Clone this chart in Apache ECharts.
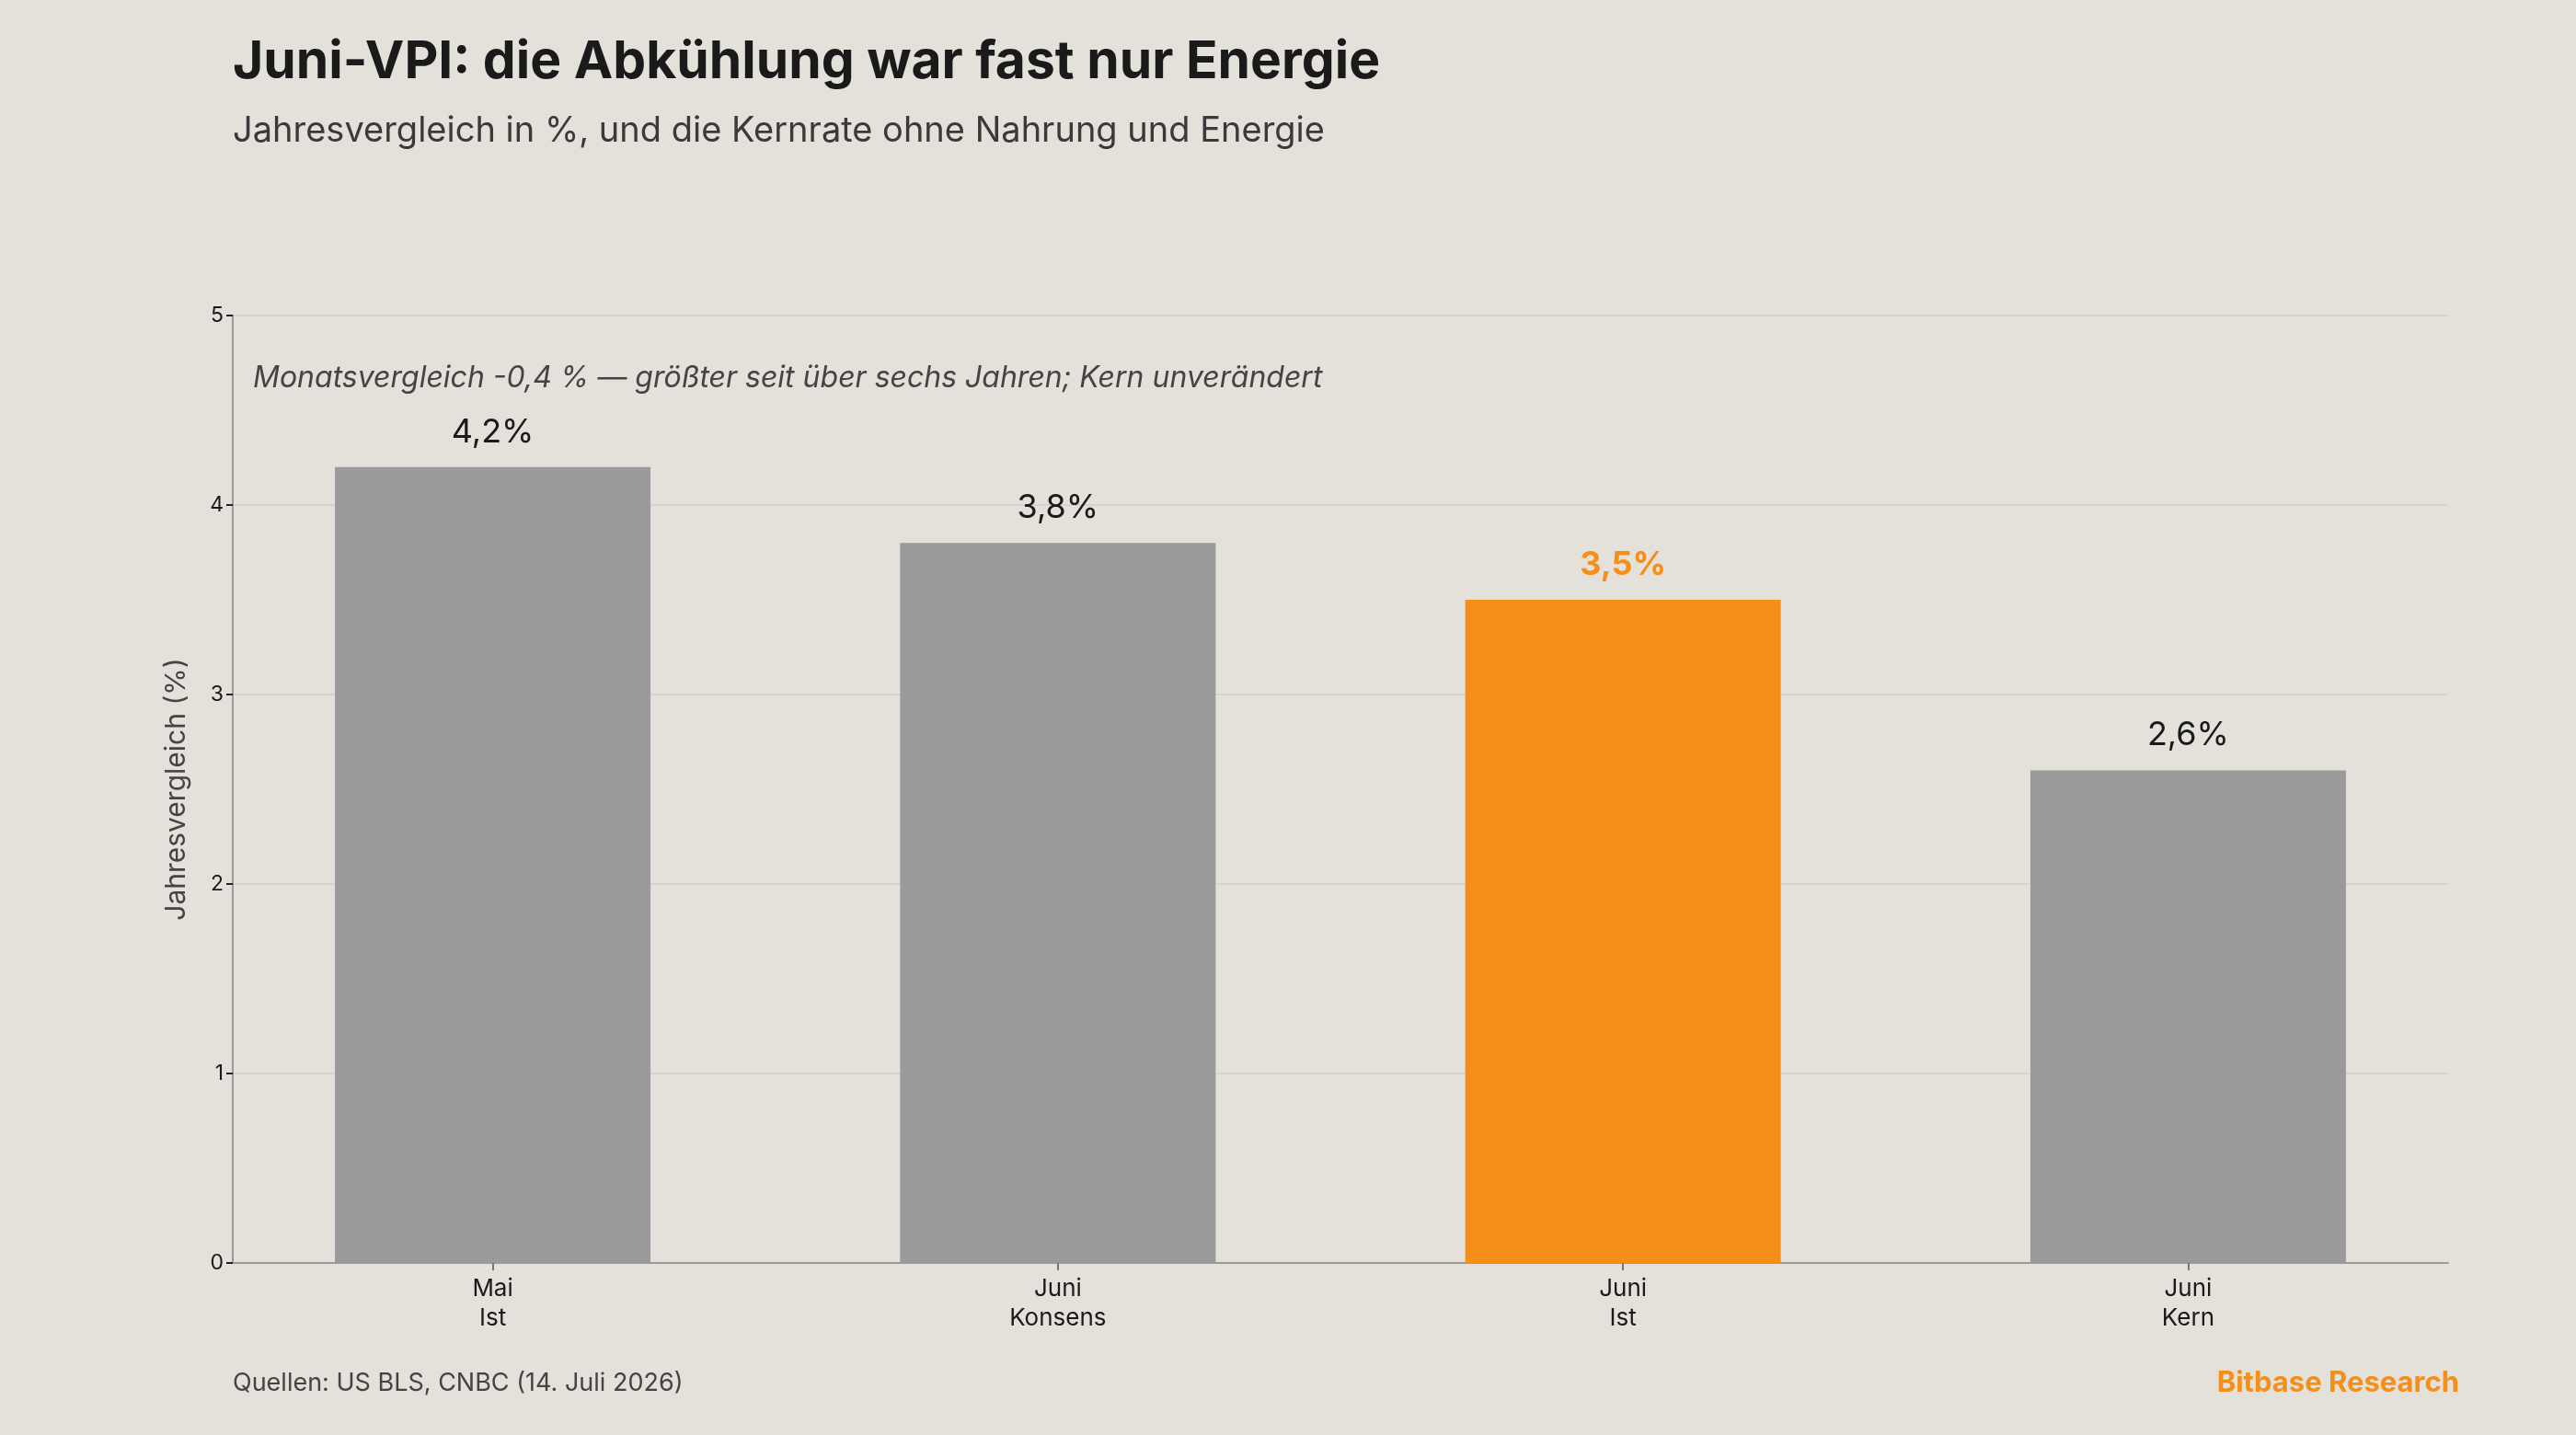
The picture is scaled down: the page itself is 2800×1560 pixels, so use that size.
<!DOCTYPE html>
<html>
<head>
<meta charset="utf-8">
<script src="https://cdn.jsdelivr.net/npm/echarts@6/dist/echarts.min.js"></script>
<style>
html,body{margin:0;padding:0;background:#E4E0DA;}
#c{width:2800px;height:1560px;}
</style>
</head>
<body>
<div id="c"></div>
<script>
const categories = ['Mai\nIst', 'Juni\nKonsens', 'Juni\nIst', 'Juni\nKern'];
const values = [4.2, 3.8, 3.5, 2.6];
const highlighted = [false, false, true, false];
const yTicks = [0, 1, 2, 3, 4, 5];
const titleText = 'Juni-VPI: die Abkühlung war fast nur Energie';
const subtitleText = 'Jahresvergleich in %, und die Kernrate ohne Nahrung und Energie';
const noteText = 'Monatsvergleich -0,4 % — größter seit über sechs Jahren; Kern unverändert';
const sourceText = 'Quellen: US BLS, CNBC (14. Juli 2026)';
const brandText = 'Bitbase Research';
const yAxisName = 'Jahresvergleich (%)';

const FONT = 'Inter, "Open Sans", sans-serif';
const GRAY = '#9A9A9A';
const ORANGE = '#F58F18';
const fmt = v => v.toFixed(1).replace('.', ',') + '%';

const chart = echarts.init(document.getElementById('c'));
const catIdx = categories.map((_, i) => i);

chart.setOption({
  backgroundColor: '#E4E0DA',
  animation: false,
  grid: { left: 253, right: 139, top: 343, bottom: 187, containLabel: false },
  xAxis: {
    type: 'value',
    min: -0.46,
    max: 3.46,
    splitLine: { show: false },
    axisLine: { show: true, onZero: false, lineStyle: { color: '#9A9A9A', width: 2 } },
    axisTick: { show: true, customValues: catIdx, length: 8, lineStyle: { color: '#777', width: 2 } },
    axisLabel: {
      customValues: catIdx,
      formatter: v => categories[Math.round(v)] || '',
      fontFamily: FONT, fontSize: 26, color: '#1a1a1a', lineHeight: 32, margin: 12
    }
  },
  yAxis: {
    type: 'value',
    min: yTicks[0],
    max: yTicks[yTicks.length - 1],
    interval: 1,
    name: yAxisName,
    nameLocation: 'middle',
    nameGap: 46,
    nameTextStyle: { fontFamily: FONT, fontSize: 30, color: '#444' },
    axisLine: { show: true, onZero: false, lineStyle: { color: '#9A9A9A', width: 2 } },
    axisTick: { show: true, length: 7, lineStyle: { color: '#222', width: 2 } },
    axisLabel: { fontFamily: FONT, fontSize: 23, color: '#1a1a1a', margin: 10 },
    splitLine: { show: true, lineStyle: { color: '#D2CEC8', width: 1.5 } }
  },
  series: [{
    type: 'bar',
    barWidth: 343,
    data: values.map((v, i) => ({
      value: [i, v],
      itemStyle: { color: highlighted[i] ? ORANGE : GRAY },
      label: {
        show: true,
        position: 'top',
        distance: 20,
        formatter: () => fmt(v),
        fontFamily: FONT,
        fontSize: 36,
        fontWeight: highlighted[i] ? 'bold' : 'normal',
        color: highlighted[i] ? ORANGE : '#1a1a1a'
      }
    }))
  }],
  graphic: [
    { type: 'text', x: 253, y: 68, style: { text: titleText, fontFamily: FONT, fontSize: 57, fontWeight: 'bold', fill: '#1a1a1a', verticalAlign: 'middle' } },
    { type: 'text', x: 253, y: 143, style: { text: subtitleText, fontFamily: FONT, fontSize: 38, fill: '#3a3a3a', verticalAlign: 'middle' } },
    { type: 'text', x: 275, y: 411, style: { text: noteText, fontFamily: FONT, fontSize: 32, fontStyle: 'italic', fill: '#444', verticalAlign: 'middle' } },
    { type: 'text', x: 253, y: 1504, style: { text: sourceText, fontFamily: FONT, fontSize: 27, fill: '#444', verticalAlign: 'middle' } },
    { type: 'text', x: 2673, y: 1504, style: { text: brandText, fontFamily: FONT, fontSize: 31, fontWeight: 'bold', fill: ORANGE, align: 'right', verticalAlign: 'middle' } }
  ]
});
</script>
</body>
</html>
